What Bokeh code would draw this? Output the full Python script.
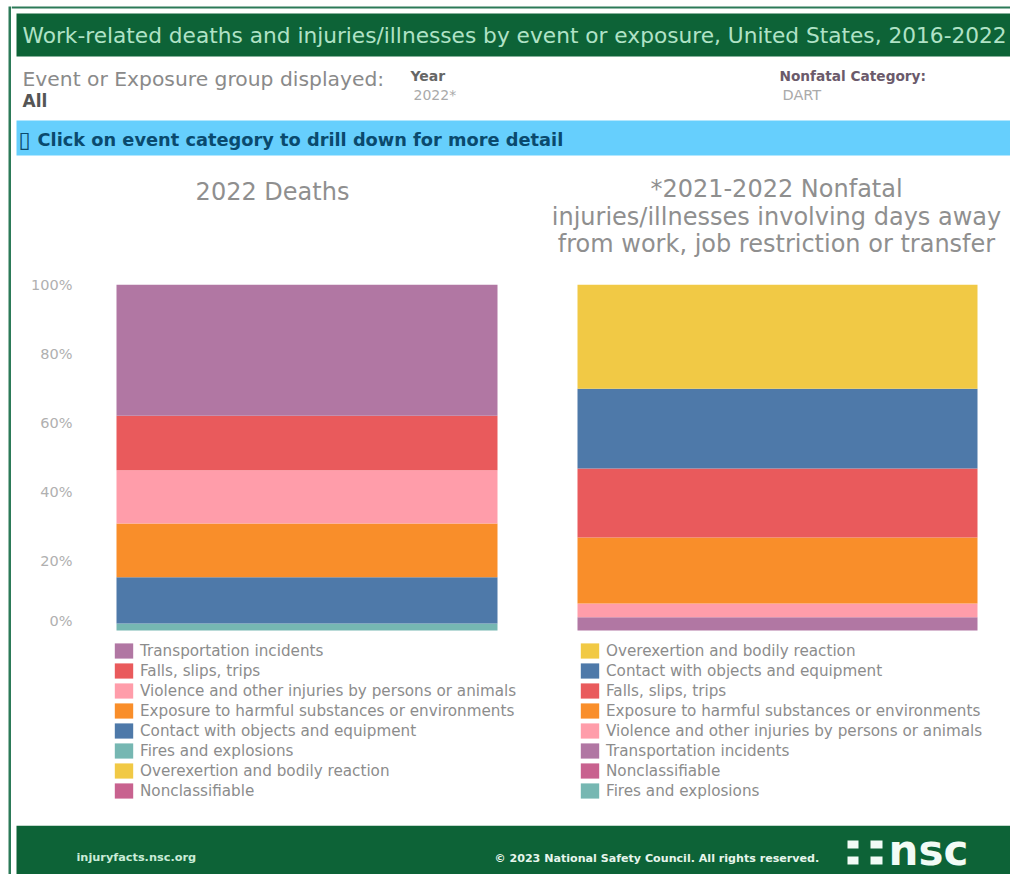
from bokeh.plotting import figure
from bokeh.layouts import column, row
from bokeh.models import Range1d, FactorRange, Legend, LegendItem, FixedTicker, LinearAxis
from bokeh.core.properties import value
from bokeh.embed import file_html
from bokeh.resources import INLINE

# ---------- data (percent of total) ----------
deaths_categories = ["Fires and explosions", "Contact with objects and equipment",
                     "Exposure to harmful substances or environments",
                     "Violence and other injuries by persons or animals",
                     "Falls, slips, trips", "Transportation incidents"]
deaths_values = [2.0, 13.4, 15.5, 15.4, 15.8, 37.9]
deaths_legend = ["Transportation incidents", "Falls, slips, trips",
                 "Violence and other injuries by persons or animals",
                 "Exposure to harmful substances or environments",
                 "Contact with objects and equipment", "Fires and explosions",
                 "Overexertion and bodily reaction", "Nonclassifiable"]

nonfatal_categories = ["Fires and explosions", "Nonclassifiable", "Transportation incidents",
                       "Violence and other injuries by persons or animals",
                       "Exposure to harmful substances or environments",
                       "Falls, slips, trips", "Contact with objects and equipment",
                       "Overexertion and bodily reaction"]
nonfatal_values = [0.0, 0.0, 3.8, 4.0, 19.1, 19.9, 23.1, 30.1]
nonfatal_legend = ["Overexertion and bodily reaction", "Contact with objects and equipment",
                   "Falls, slips, trips", "Exposure to harmful substances or environments",
                   "Violence and other injuries by persons or animals",
                   "Transportation incidents", "Nonclassifiable", "Fires and explosions"]

pct_ticks = [0, 20, 40, 60, 80, 100]

COLORS = {
    "Transportation incidents": "#b177a3",
    "Falls, slips, trips": "#e95a5c",
    "Violence and other injuries by persons or animals": "#ff9daa",
    "Exposure to harmful substances or environments": "#f98e2a",
    "Contact with objects and equipment": "#4e79a9",
    "Fires and explosions": "#76b7b2",
    "Overexertion and bodily reaction": "#f1c945",
    "Nonclassifiable": "#c8628f",
}

DARK = "#0d6337"
BLUE = "#66cffd"
EDGE = "#2c7a58"
FONT = "DejaVu Sans"


def panel(w, h, x0, x1, y0, y1):
    p = figure(width=w, height=h, x_range=Range1d(x0, x1), y_range=Range1d(y1, y0),
               toolbar_location=None, output_backend="svg", min_border=0,
               x_axis_type=None, y_axis_type=None, outline_line_color=None)
    p.grid.visible = False
    return p


def txt(p, x, y, s, size, color, bold=False, align="left"):
    p.text(x=[x], y=[y], text=[s], text_font=value(FONT), text_font_size=f"{size}px",
           text_color=color, text_font_style="bold" if bold else "normal",
           text_align=align, text_baseline="middle")


def stacked(title, cats, vals, legend_order, w, left, frame_w, bar_w, legend_dx, with_axis):
    # the frame runs on below the bars (down to the footer) so the legend sits inside it
    p = figure(width=w, height=555, x_range=FactorRange(factors=[title], factor_padding=0, range_padding=0),
               y_range=Range1d(-56.36, 100), toolbar_location=None, output_backend="svg",
               min_border_left=left, min_border_right=w - left - frame_w,
               min_border_top=14, min_border_bottom=0, outline_line_color=None,
               x_axis_type=None, y_axis_type=None)
    p.grid.visible = False
    width = bar_w / frame_w
    lookup = {}
    bottom = 0
    for c, v in zip(cats, vals):
        lookup[c] = p.vbar(x=[title], bottom=[bottom], top=[bottom + v], width=width,
                           fill_color=COLORS[c], line_color=None)
        bottom += v
    legend_items = []
    for name in legend_order:
        if name not in lookup:
            lookup[name] = p.vbar(x=[title], bottom=[0], top=[0], width=width,
                                  fill_color=COLORS[name], line_color=None)
        legend_items.append(LegendItem(label=name, renderers=[lookup[name]]))
    lg = Legend(items=legend_items, location=(legend_dx, 25), orientation="vertical",
                border_line_color=None, background_fill_alpha=0, margin=0, padding=0,
                glyph_width=23, glyph_height=19, label_height=19,
                spacing=1, label_standoff=5, label_text_font=FONT,
                label_text_font_size="15.2px", label_text_color="#8c8c8c")
    p.add_layout(lg, "center")
    if with_axis:
        overrides = {t: f"{t}%" for t in pct_ticks}
        overrides[0] = "0%\n "
        ax = LinearAxis(ticker=FixedTicker(ticks=pct_ticks), axis_line_color=None,
                        major_tick_line_color=None, minor_tick_line_color=None,
                        major_label_standoff=18, major_label_text_font=FONT,
                        major_label_text_font_size="14.5px", major_label_text_color="#b0b0b0",
                        major_label_overrides=overrides)
        p.add_layout(ax, "left")
    return p


# ---------- frame strip ----------
strip = panel(11, 874, 0, 11, 0, 874)
strip.quad(left=[8], right=[11], top=[6], bottom=[874], fill_color=EDGE, line_color=None)

# ---------- header ----------
head = panel(999, 270, 11, 1010, 0, 270)
head.quad(left=[11], right=[1010], top=[6], bottom=[8], fill_color=EDGE, line_color=None)
head.quad(left=[16], right=[1010], top=[13], bottom=[56], fill_color=DARK, line_color=None)
head.quad(left=[16], right=[1010], top=[120], bottom=[155], fill_color=BLUE, line_color=None)
txt(head, 22, 35, "Work-related deaths and injuries/illnesses by event or exposure, United States, 2016-2022", 21.7, "#b0e2c6")
txt(head, 22, 78, "Event or Exposure group displayed:", 20.3, "#8a8a8a")
txt(head, 22, 100, "All", 17, "#555555", bold=True)
txt(head, 410, 75, "Year", 14, "#666666", bold=True)
txt(head, 413, 94, "2022*", 14, "#aaaaaa")
txt(head, 779, 75, "Nonfatal Category:", 13.7, "#6b5a6b", bold=True)
txt(head, 782, 94, "DART", 14.5, "#aaaaaa")
txt(head, 18, 139, "\u25af", 22, "#0a4a6e")
txt(head, 37, 139, "Click on event category to drill down for more detail", 17.8, "#0a4a6e", bold=True)
txt(head, 272, 191, "2022 Deaths", 24, "#8f8f8f", align="center")
txt(head, 776, 188, "*2021-2022 Nonfatal", 24, "#8f8f8f", align="center")
txt(head, 776, 216, "injuries/illnesses involving days away", 24, "#8f8f8f", align="center")
txt(head, 776, 243, "from work, job restriction or transfer", 24, "#8f8f8f", align="center")

# ---------- charts ----------
left_chart = stacked("2022 Deaths", deaths_categories, deaths_values, deaths_legend, 526, 85, 421, 381, 16, True)
right_chart = stacked("2021-2022 Nonfatal", nonfatal_categories, nonfatal_values, nonfatal_legend, 473, 7, 466, 400, 34, False)

# ---------- footer ----------
foot = panel(999, 49, 11, 1010, 825, 874)
foot.quad(left=[16], right=[1010], top=[825], bottom=[874], fill_color=DARK, line_color=None)
txt(foot, 76, 857, "injuryfacts.nsc.org", 11.3, "#c9ecd8", bold=True)
txt(foot, 494, 858, "\u00a9 2023 National Safety Council. All rights reserved.", 11.1, "#e6f5ec", bold=True)
foot.quad(left=[847, 870, 847, 870], right=[858, 882, 858, 882], top=[840, 840, 856, 856],
          bottom=[848, 848, 864, 864], fill_color="#f2fbf6", line_color=None)
txt(foot, 888, 849.5, "nsc", 42, "#f2fbf6", bold=True)

page = row(strip, column(head, row(left_chart, right_chart, spacing=0), foot, spacing=0), spacing=0)
open("out.html", "w").write(file_html(page, INLINE))
